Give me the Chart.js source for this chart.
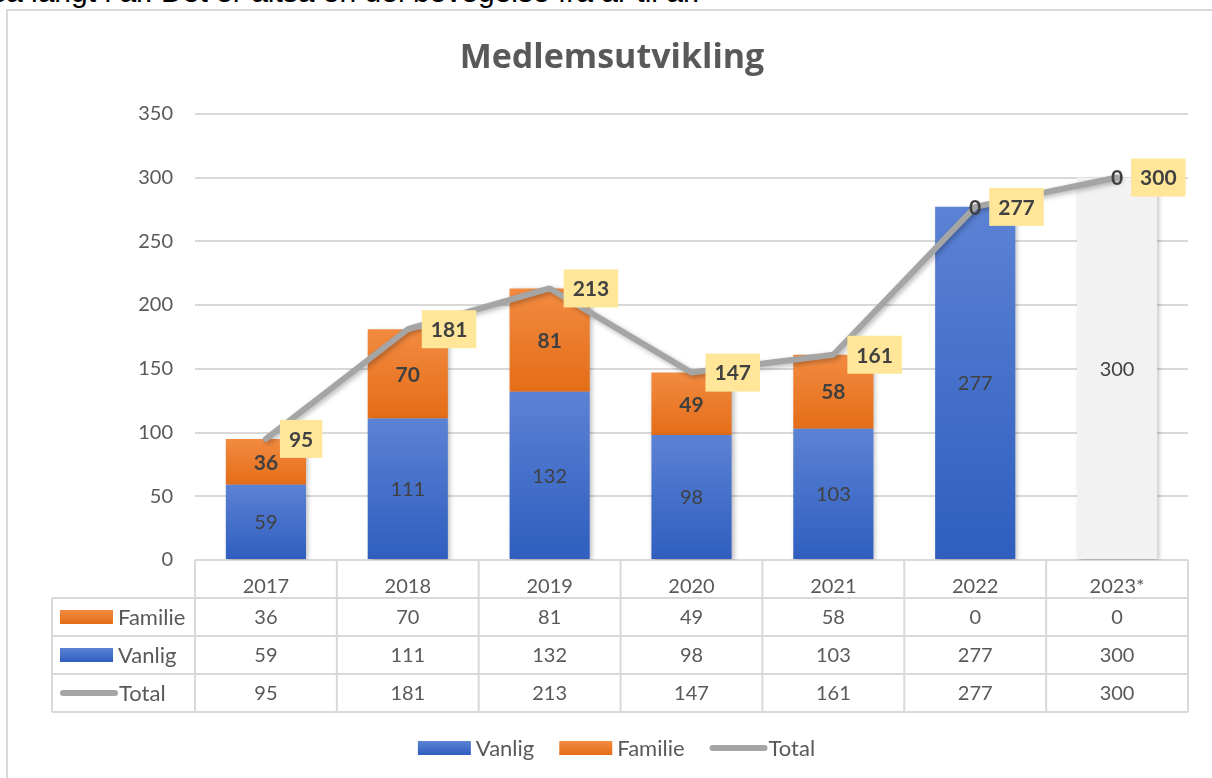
<!DOCTYPE html>
<html>
  <head>
    <meta charset="UTF-8">
    <title>Medlemsutvikling</title>
    <script src="https://cdn.jsdelivr.net/npm/chart.js"></script>
    <style>
      body { margin: 0; background: #fff; overflow: hidden; }
      .intro {
        position: absolute; left: -9px; top: -23px;
        font: 30px "Liberation Sans", Arial, sans-serif; line-height: 30px;
        color: #000; white-space: nowrap;
      }
      .frame {
        position: absolute; left: 6px; top: 9px; width: 1300px; height: 900px;
        border: 2px solid #d9d9d9; background: #fff;
      }
      .wrap { position: absolute; left: 0; top: 0; width: 1212px; height: 778px; }
    </style>
  </head>
  <body>
    <div class="intro">så langt i år. Det er altså en del bevegelse fra år til år.</div>
    <div class="frame"></div>
    <div class="wrap"><canvas id="medlemChart" width="1212" height="778"></canvas></div>

    <script>
      const years = ['2017', '2018', '2019', '2020', '2021', '2022', '2023*'];
      const vanlig = [59, 111, 132, 98, 103, 277, 300];
      const familie = [36, 70, 81, 49, 58, 0, 0];
      const total = [95, 181, 213, 147, 161, 277, 300];

      const FONT = 'Lato';
      const TEXT = '#595959';
      const LABEL = '#404040';
      const GRID = '#d9d9d9';

      // per-bar vertical gradient like the Excel fill
      function segGradient(c, lowVals, highVals, light, dark, solid) {
        const chart = c.chart;
        const y = chart.scales.y;
        if (!chart.chartArea || !y || c.type !== 'data') return solid;
        const i = c.dataIndex;
        const yTop = y.getPixelForValue(highVals[i]);
        const yBot = y.getPixelForValue(lowVals[i]);
        if (!isFinite(yTop) || !isFinite(yBot) || yTop === yBot) return solid;
        const g = chart.ctx.createLinearGradient(0, yTop, 0, yBot);
        g.addColorStop(0, light);
        g.addColorStop(1, dark);
        return g;
      }

      const zeros = years.map(() => 0);

      const shadowPlugin = {
        id: 'shadows',
        beforeDatasetDraw(chart) {
          const ctx = chart.ctx;
          ctx.save();
          ctx.shadowColor = 'rgba(0,0,0,0.28)';
          ctx.shadowBlur = 5;
          ctx.shadowOffsetX = 2;
          ctx.shadowOffsetY = 2;
        },
        afterDatasetDraw(chart) {
          chart.ctx.restore();
        }
      };

      const labelPlugin = {
        id: 'labels',
        afterDatasetsDraw(chart) {
          const ctx = chart.ctx;
          ctx.save();
          ctx.textAlign = 'center';
          ctx.textBaseline = 'middle';
          // Vanlig
          chart.getDatasetMeta(0).data.forEach((el, i) => {
            ctx.font = '20px ' + FONT;
            ctx.fillStyle = LABEL;
            ctx.fillText(String(vanlig[i]), el.x, (el.y + el.base) / 2 + 1);
          });
          // Familie
          chart.getDatasetMeta(1).data.forEach((el, i) => {
            ctx.font = 'bold 21px ' + FONT;
            ctx.fillStyle = LABEL;
            ctx.fillText(String(familie[i]), el.x, (el.y + el.base) / 2 + 1);
          });
          // Total, yellow boxes to the right of the point
          chart.getDatasetMeta(2).data.forEach((pt, i) => {
            ctx.font = 'bold 21px ' + FONT;
            const txt = String(total[i]);
            const w = ctx.measureText(txt).width + 18;
            const bx = pt.x + 14;
            ctx.fillStyle = '#ffe699';
            ctx.fillRect(bx, pt.y - 19, w, 38);
            ctx.fillStyle = LABEL;
            ctx.fillText(txt, bx + w / 2, pt.y + 1);
          });
          ctx.restore();
        }
      };

      function drawKey(ctx, ds, x, y) {
        if (ds.type === 'line') {
          ctx.strokeStyle = ds.borderColor;
          ctx.lineWidth = 6;
          ctx.lineCap = 'round';
          ctx.beginPath();
          ctx.moveTo(x + 3, y);
          ctx.lineTo(x + 55, y);
          ctx.stroke();
          return 58;
        }
        const g = ctx.createLinearGradient(0, y - 7, 0, y + 7);
        g.addColorStop(0, ds.keyLight);
        g.addColorStop(1, ds.keyDark);
        ctx.fillStyle = g;
        ctx.fillRect(x, y - 7, 53, 14);
        return 57;
      }

      const tablePlugin = {
        id: 'dataTable',
        afterDraw(chart) {
          const { ctx, chartArea: area, scales: { x } } = chart;
          const half = (x.getPixelForValue(1) - x.getPixelForValue(0)) / 2;
          const rowH = 38;
          const top = area.bottom;
          const keyLeft = 52;
          const rows = [
            { ds: chart.data.datasets[1], vals: familie },
            { ds: chart.data.datasets[0], vals: vanlig },
            { ds: chart.data.datasets[2], vals: total }
          ];
          const bottom = top + rowH * (rows.length + 1);

          ctx.save();
          ctx.strokeStyle = GRID;
          ctx.lineWidth = 2;
          ctx.beginPath();
          // vertical lines
          for (let i = 0; i <= years.length; i++) {
            const vx = i < years.length ? x.getPixelForValue(i) - half : x.getPixelForValue(years.length - 1) + half;
            ctx.moveTo(vx, top);
            ctx.lineTo(vx, bottom);
          }
          ctx.moveTo(keyLeft, top + rowH);
          ctx.lineTo(keyLeft, bottom);
          // horizontal lines
          for (let r = 1; r <= rows.length; r++) {
            ctx.moveTo(keyLeft, top + rowH * r);
            ctx.lineTo(area.right, top + rowH * r);
          }
          ctx.moveTo(keyLeft, bottom);
          ctx.lineTo(area.right, bottom);
          ctx.stroke();

          ctx.textBaseline = 'middle';
          rows.forEach((row, r) => {
            const cy = top + rowH * (r + 1) + rowH / 2;
            ctx.textAlign = 'left';
            const kw = drawKey(ctx, row.ds, keyLeft + 8, cy);
            ctx.fillStyle = TEXT;
            ctx.font = '22px ' + FONT;
            ctx.fillText(row.ds.label, keyLeft + 8 + kw + 1, cy + 1);
            ctx.textAlign = 'center';
            ctx.font = '20px ' + FONT;
            row.vals.forEach((v, i) => {
              ctx.fillText(String(v), x.getPixelForValue(i), cy + 1);
            });
          });

          // bottom legend
          const items = chart.data.datasets;
          ctx.textAlign = 'left';
          ctx.font = '22px ' + FONT;
          const widths = items.map(ds => (ds.type === 'line' ? 58 : 57) + ctx.measureText(ds.label).width);
          const gap = 26;
          let lx = 616 - (widths.reduce((a, b) => a + b, 0) + gap * (items.length - 1)) / 2;
          const ly = 748;
          items.forEach((ds, k) => {
            const kw = drawKey(ctx, ds, lx, ly);
            ctx.fillStyle = TEXT;
            ctx.fillText(ds.label, lx + kw + 1, ly + 1);
            lx += widths[k] + gap;
          });
          ctx.restore();
        }
      };

      new Chart(document.getElementById('medlemChart'), {
        type: 'bar',
        data: {
          labels: years,
          datasets: [
            {
              label: 'Vanlig',
              data: vanlig,
              stack: 's',
              order: 1,
              keyLight: '#5b82d4', keyDark: '#2f5ebf',
              backgroundColor: c => c.dataIndex === years.length - 1 ? '#f2f2f2'
                : segGradient(c, zeros, vanlig, '#5b82d4', '#2f5ebf', '#4472c4'),
              barPercentage: 0.565,
              categoryPercentage: 1
            },
            {
              label: 'Familie',
              data: familie,
              stack: 's',
              order: 1,
              keyLight: '#f28b41', keyDark: '#e46d17',
              backgroundColor: c => segGradient(c, vanlig, total, '#f28b41', '#e46d17', '#ed7d31'),
              barPercentage: 0.565,
              categoryPercentage: 1
            },
            {
              type: 'line',
              label: 'Total',
              data: total,
              order: 0,
              borderColor: '#a5a5a5',
              backgroundColor: '#a5a5a5',
              borderWidth: 6,
              borderCapStyle: 'round',
              borderJoinStyle: 'round',
              pointRadius: 0,
              tension: 0
            }
          ]
        },
        plugins: [shadowPlugin, labelPlugin, tablePlugin],
        options: {
          responsive: false,
          animation: false,
          layout: { padding: { left: 36, right: 24, top: 0, bottom: 180 } },
          plugins: {
            legend: { display: false },
            tooltip: { enabled: false },
            title: {
              display: true,
              text: 'Medlemsutvikling',
              color: TEXT,
              font: { family: 'Open Sans', size: 34, weight: 'bold', lineHeight: 1.2 },
              padding: { top: 38, bottom: 35 }
            }
          },
          scales: {
            x: {
              stacked: true,
              grid: { display: false },
              border: { display: false },
              ticks: { color: TEXT, font: { family: FONT, size: 20 }, padding: 7 },
              afterFit: s => { s.height = 38; }
            },
            y: {
              stacked: true,
              min: 0,
              max: 350,
              ticks: { stepSize: 50, color: TEXT, font: { family: FONT, size: 20 }, padding: 22 },
              grid: { color: GRID, lineWidth: 2, drawTicks: false },
              border: { display: false },
              afterFit: s => { s.width = 159; }
            }
          }
        }
      });
    </script>
  </body>
</html>
